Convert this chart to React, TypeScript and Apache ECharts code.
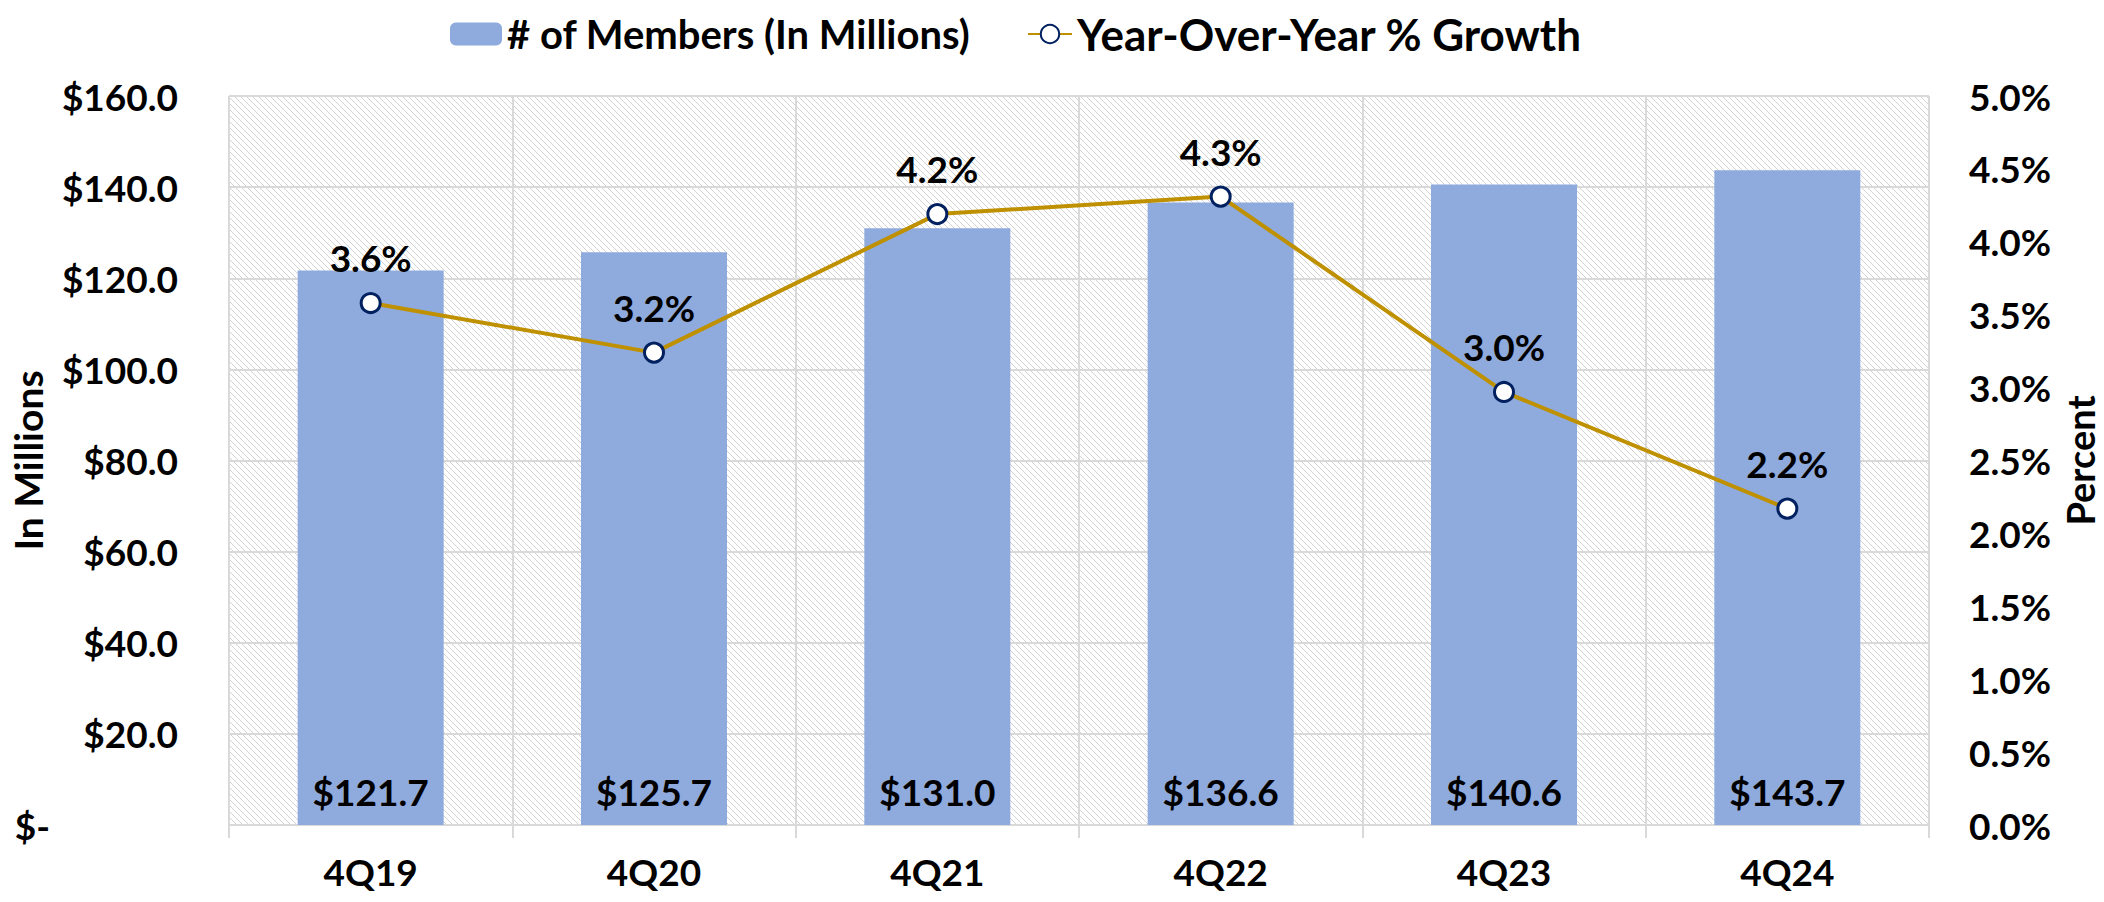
import React, { useEffect, useRef } from "react";
import * as echarts from "echarts";

const categories = ["4Q19", "4Q20", "4Q21", "4Q22", "4Q23", "4Q24"];
const members = [121.7, 125.7, 131.0, 136.6, 140.6, 143.7];
const growth = [3.58, 3.24, 4.19, 4.31, 2.97, 2.17];
const leftTicks = { min: 0, max: 160, interval: 20 };
const rightTicks = { min: 0, max: 5, interval: 0.5 };
const seriesNames = ["# of Members (In Millions)", "Year-Over-Year % Growth"];

const FONT = "Lato";

function makeHatch(): HTMLCanvasElement {
  const c = document.createElement("canvas");
  const s = 6;
  c.width = s;
  c.height = s;
  const ctx = c.getContext("2d")!;
  ctx.fillStyle = "#ffffff";
  ctx.fillRect(0, 0, s, s);
  ctx.fillStyle = "#d2d2d2";
  for (let i = 0; i < s; i++) ctx.fillRect(i, i, 1, 1);
  return c;
}

export default function App() {
  const ref = useRef<HTMLDivElement>(null);
  useEffect(() => {
    document.body.style.margin = "0";
    const chart = echarts.init(ref.current!, null, { renderer: "svg" });
    const labelStyle = { fontFamily: FONT, fontWeight: "bold" as const, fontSize: 37, color: "#000" };
    chart.setOption({
      animation: false,
      backgroundColor: "#ffffff",
      textStyle: { fontFamily: FONT },
      legend: [
        {
          data: [seriesNames[0]],
          left: 445,
          top: 9,
          itemWidth: 52,
          itemHeight: 23,
          textStyle: { ...labelStyle, fontSize: 40 },
        },
        {
          data: [seriesNames[1]],
          left: 1022,
          top: 7,
          itemWidth: 44,
          itemHeight: 23,
          textStyle: { ...labelStyle, fontSize: 44 },
        },
      ],
      grid: {
        left: 229,
        right: 175,
        top: 96,
        bottom: 77,
        outerBoundsMode: "none",
        containLabel: false,
        show: true,
        backgroundColor: { image: makeHatch(), repeat: "repeat" },
        borderWidth: 0,
      },
      xAxis: {
        type: "category",
        data: categories,
        axisLine: { show: true, lineStyle: { color: "#d9d9d9", width: 2 } },
        axisTick: { show: true, length: 13, lineStyle: { color: "#d9d9d9", width: 2 } },
        splitLine: { show: true, lineStyle: { color: "#d9d9d9", width: 2 } },
        axisLabel: { ...labelStyle, margin: 28 },
      },
      yAxis: [
        {
          type: "value",
          ...leftTicks,
          name: "In Millions",
          nameLocation: "middle",
          nameRotate: 90,
          nameGap: 182,
          nameMoveOverlap: false,
          nameTextStyle: { ...labelStyle, fontSize: 39 },
          axisLine: { show: false },
          axisTick: { show: false },
          splitLine: { show: true, lineStyle: { color: "#d9d9d9", width: 2 } },
          axisLabel: {
            ...labelStyle,
            margin: 51,
            formatter: (v: number) => (v === 0 ? "{z|$-}" : "$" + v.toFixed(1)),
            rich: {
              z: { ...labelStyle, padding: [0, 128, 0, 0] },
            },
          },
        },
        {
          type: "value",
          ...rightTicks,
          position: "right",
          name: "Percent",
          nameLocation: "middle",
          nameRotate: 90,
          nameGap: 132,
          nameMoveOverlap: false,
          nameTextStyle: { ...labelStyle, fontSize: 38 },
          axisLine: { show: false },
          axisTick: { show: false },
          splitLine: { show: false },
          axisLabel: {
            ...labelStyle,
            margin: 40,
            formatter: (v: number) => v.toFixed(1) + "%",
          },
        },
      ],
      series: [
        {
          name: seriesNames[0],
          type: "bar",
          data: members,
          barWidth: 146,
          itemStyle: { color: "#8FAADC" },
          label: {
            show: true,
            position: "insideBottom",
            distance: 15,
            ...labelStyle,
            formatter: (p: any) => "$" + Number(p.value).toFixed(1),
          },
        },
        {
          name: seriesNames[1],
          type: "line",
          yAxisIndex: 1,
          data: growth,
          symbol: "circle",
          symbolSize: 19,
          lineStyle: { color: "#BF9000", width: 4 },
          itemStyle: { color: "#ffffff", borderColor: "#002060", borderWidth: 3 },
          label: {
            show: true,
            position: "top",
            distance: 16,
            ...labelStyle,
            formatter: (p: any) => Number(p.value).toFixed(1) + "%",
          },
          z: 5,
        },
      ],
    });
    return () => chart.dispose();
  }, []);
  return (
    <div
      ref={ref}
      style={{ position: "absolute", left: 0, top: 0, width: 2104, height: 902 }}
    />
  );
}
